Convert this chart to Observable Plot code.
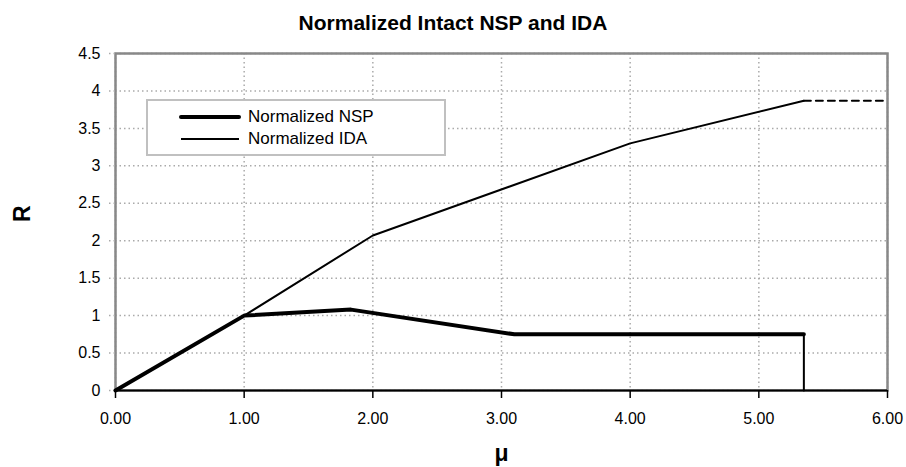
<!DOCTYPE html>
<html>
<head>
<meta charset="utf-8">
<script src="https://cdn.jsdelivr.net/npm/d3@7"></script>
<script src="https://cdn.jsdelivr.net/npm/@observablehq/plot@0.6"></script>
<style>
  html, body { margin: 0; padding: 0; background: #fff; }
  body { width: 906px; height: 467px; position: relative; overflow: hidden; font-family: "Liberation Sans", Arial, sans-serif; }
  #title { position: absolute; left: 0; top: 11px; width: 906px; text-align: center; font-weight: bold; font-size: 21px; color: #000; }
  #chart { position: absolute; left: 0; top: 40px; }
  #legend { position: absolute; left: 146px; top: 99px; width: 300px; height: 57px; border: 2px solid #c0c0c0; background: #fff; box-sizing: border-box; }
  .row { position: absolute; left: 0; display: flex; align-items: center; font-size: 17px; color: #000; }
  .row svg { margin-left: 31px; margin-right: 7px; }
</style>
</head>
<body>
<div id="title">Normalized Intact NSP and IDA</div>
<div id="chart"></div>
<div id="legend">
  <div class="row" style="top:6px"><svg width="62" height="8"><line x1="2" y1="4" x2="60" y2="4" stroke="#000" stroke-width="4" stroke-linecap="round"/></svg>Normalized NSP</div>
  <div class="row" style="top:28px"><svg width="62" height="8"><line x1="2" y1="4" x2="60" y2="4" stroke="#000" stroke-width="2"/></svg>Normalized IDA</div>
</div>
<script>
const muNSP = [0, 1, 1.83, 3.1, 5.35];
const rNSP = [0, 1, 1.08, 0.75, 0.75];
const muIDA = [0, 1, 2, 4, 5.35];
const rIDA = [0, 1, 2.07, 3.3, 3.87];
const muExt = [5.35, 6];
const rExt = [3.87, 3.87];
const muDrop = [5.35, 5.35];
const rDrop = [0.75, 0];
const xTicks = [0, 1, 2, 3, 4, 5, 6];
const yTicks = [0, 0.5, 1, 1.5, 2, 2.5, 3, 3.5, 4, 4.5];

const pts = (xs, ys) => xs.map((x, i) => ({x, y: ys[i]}));

const W = 906, H = 427;
const chart = Plot.plot({
  width: W,
  height: H,
  marginTop: 13,
  marginBottom: 77,
  marginLeft: 115,
  marginRight: 19,
  style: { fontFamily: "Liberation Sans, Arial, sans-serif", fontSize: "16px", color: "#000", background: "#fff" },
  x: { domain: [0, 6], ticks: xTicks, tickFormat: d => d.toFixed(2), label: null },
  y: { domain: [0, 4.5], ticks: yTicks, tickFormat: d => String(d), label: null },
  marks: [
    Plot.gridX(xTicks, { stroke: "#aaa", strokeOpacity: 1, strokeDasharray: "1.5,3", strokeWidth: 1.5 }),
    Plot.gridY(yTicks, { stroke: "#aaa", strokeOpacity: 1, strokeDasharray: "1.5,3", strokeWidth: 1.5 }),
    Plot.frame({ stroke: "#888", strokeWidth: 2.5 }),
    Plot.axisX({ ticks: xTicks, tickFormat: d => d.toFixed(2), tickSize: 8, tickPadding: 14, stroke: "#000", strokeWidth: 1.5, fontSize: 16 }),
    Plot.axisY({ ticks: yTicks, tickFormat: d => String(d), tickSize: 9, tickPadding: 6, stroke: "#aaa", strokeDasharray: "1.5,3", strokeWidth: 1.5, fill: "#000", fontSize: 16 }),
    Plot.ruleY([0], { stroke: "#000", strokeWidth: 2 }),
    Plot.line(pts(muIDA, rIDA), { x: "x", y: "y", stroke: "#000", strokeWidth: 2 }),
    Plot.line(pts(muExt, rExt), { x: "x", y: "y", stroke: "#000", strokeWidth: 2, strokeDasharray: "7,5" }),
    Plot.line(pts(muNSP, rNSP), { x: "x", y: "y", stroke: "#000", strokeWidth: 4 }),
    Plot.line(pts(muDrop, rDrop), { x: "x", y: "y", stroke: "#000", strokeWidth: 2 }),
    Plot.text(["μ"], { frameAnchor: "bottom", dy: 70, fontSize: 23, fontWeight: "bold" }),
    Plot.text(["R"], { frameAnchor: "left", dx: -93, rotate: -90, fontSize: 23, fontWeight: "bold" })
  ]
});
document.getElementById("chart").appendChild(chart);
</script>
</body>
</html>
